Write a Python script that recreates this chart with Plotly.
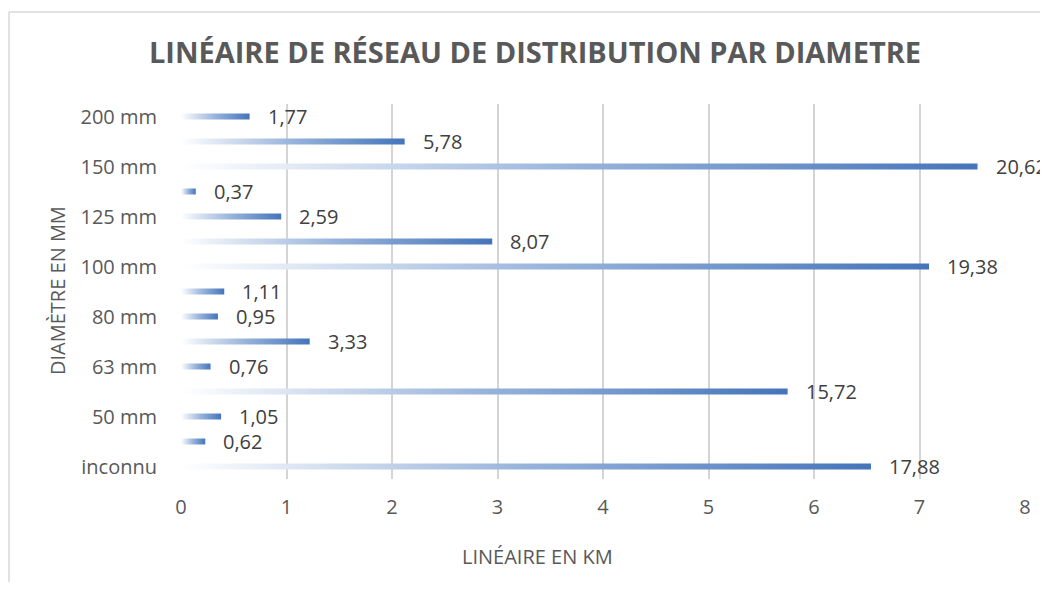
import plotly.graph_objects as go

# Data (bottom to top)
categories = ["inconnu", "", "50 mm", "", "63 mm", "", "80 mm", "",
              "100 mm", "", "125 mm", "", "150 mm", "", "200 mm"]
length_km = [6.54, 0.23, 0.38, 5.75, 0.28, 1.22, 0.35, 0.41,
             7.09, 2.95, 0.95, 0.14, 7.55, 2.12, 0.65]
share_labels = ["17,88", "0,62", "1,05", "15,72", "0,76", "3,33", "0,95", "1,11",
                "19,38", "8,07", "2,59", "0,37", "20,62", "5,78", "1,77"]
x_ticks = [0, 1, 2, 3, 4, 5, 6, 7, 8]

OFF = 8  # page body margin of the html output
W, H = 1048 - OFF, 590 - 2 * OFF
ML = 181 - OFF
MT = 104 - OFF
MR = W - (1025 - OFF)
MB = H - (479 - OFF)
FONT = "Open Sans"
half = 0.12

pw = W - ML - MR
ph = H - MT - MB


def px_x(px):
    return (px - OFF - ML) / pw


def px_y(py):
    return (H - MB - (py - OFF)) / ph


fig = go.Figure()
for i, (v, lab) in enumerate(zip(length_km, share_labels)):
    fig.add_trace(go.Scatter(
        x=[0, v, v, 0, 0],
        y=[i - half, i - half, i + half, i + half, i - half],
        fill="toself",
        mode="lines",
        line=dict(width=0, color="rgba(0,0,0,0)"),
        fillgradient=dict(type="horizontal",
                          colorscale=[[0, "#FFFFFF"], [0.5, "#97B3DB"], [1, "#4474BA"]]),
        showlegend=False,
        hoverinfo="skip",
    ))
    fig.add_annotation(x=v, y=i, text=lab, showarrow=False, xanchor="left",
                       yanchor="middle", xshift=16,
                       font=dict(family=FONT, size=20, color="#404040"))

# Axis titles
fig.add_annotation(text="DIAMÈTRE EN MM", textangle=-90, xref="paper", yref="paper",
                   x=px_x(57), y=px_y(291), showarrow=False,
                   xanchor="center", yanchor="middle",
                   font=dict(family=FONT, size=20, color="#595959"))
fig.add_annotation(text="LINÉAIRE EN KM", xref="paper", yref="paper",
                   x=px_x(537), y=px_y(556), showarrow=False,
                   xanchor="center", yanchor="middle",
                   font=dict(family=FONT, size=20, color="#595959"))

# chart border (top and left edges visible)
fig.add_shape(type="line", xref="paper", yref="paper",
              x0=px_x(9), x1=px_x(1060), y0=px_y(12), y1=px_y(12),
              line=dict(color="#D9D9D9", width=1.5))
fig.add_shape(type="line", xref="paper", yref="paper",
              x0=px_x(9), x1=px_x(9), y0=px_y(12), y1=px_y(600),
              line=dict(color="#D9D9D9", width=1.5))

fig.update_layout(
    width=W, height=H,
    margin=dict(l=ML, r=MR, t=MT, b=MB, autoexpand=False),
    paper_bgcolor="white", plot_bgcolor="white",
    title=dict(text="<b>LINÉAIRE DE RÉSEAU DE DISTRIBUTION PAR DIAMETRE</b>",
               x=(535 - OFF) / W, xanchor="center", y=1 - (53 - OFF) / H, yanchor="middle",
               font=dict(family=FONT, size=29, color="#595959")),
    xaxis=dict(range=[0, 8], tickmode="array", tickvals=x_ticks,
               ticktext=[str(t) for t in x_ticks],
               showgrid=True, gridcolor="#D4D4D4", gridwidth=2,
               zeroline=False, showline=False, ticks="",
               ticklabelstandoff=14,
               tickfont=dict(family=FONT, size=20, color="#595959"),
               fixedrange=True),
    yaxis=dict(range=[-0.5, 14.5], tickmode="array",
               tickvals=list(range(len(categories))), ticktext=categories,
               showgrid=False, zeroline=False, showline=False, ticks="",
               ticklabelstandoff=23,
               tickfont=dict(family=FONT, size=20, color="#595959"),
               fixedrange=True),
)

fig.write_html("out.html")
